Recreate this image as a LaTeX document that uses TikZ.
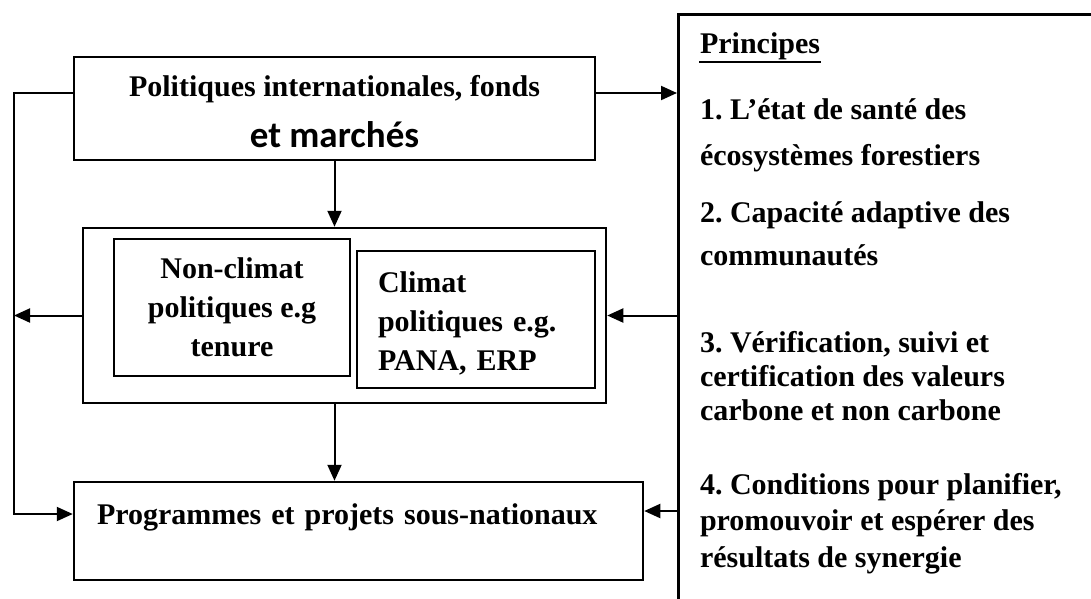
\documentclass[tikz,border=0pt]{standalone}
\usepackage{fontspec}
\setmainfont{Liberation Serif}
\newfontfamily\carlito{Carlito}
\frenchspacing
\usepackage{tikz}
\usetikzlibrary{calc, arrows.meta}
\tikzstyle{blk}=[draw, line width=2.5pt, inner sep=0pt]
\tikzstyle{txt}=[font=\bfseries\fontsize{30}{39}\selectfont, inner sep=0pt]
\tikzstyle{prn}=[txt, anchor=base west, align=left]

\begin{document}
\begin{tikzpicture}[x=1pt,y=1pt,>={Triangle[length=16pt,width=14pt]},line width=2pt]
      \useasboundingbox (0,0) rectangle (1091,-598);

      \node [blk, txt, align=center, minimum width=521pt, minimum height=103pt] (intl) at (334.5,-108.5)
            {\rule{0pt}{28pt}Politiques internationales, fonds\\[12pt]{\carlito\fontsize{37}{39}\selectfont et marchés}};

      \node [blk, minimum width=523pt, minimum height=175pt] (pol) at (344.5,-315.5) {};
      \node [blk, txt, align=center, minimum width=236pt, minimum height=137pt] (noncl) at (232,-307.5)
            {Non-climat\\politiques e.g\\tenure};
      \node [blk, txt, text width=196pt, align=left, minimum width=238pt, minimum height=137pt] (clim) at (476,-319.5)
            {\rule{0pt}{28pt}Climat\\politiques e.g.\\PANA, ERP};

      \node [blk, txt, text width=523pt, align=left, text height=21pt, text depth=35pt,
             minimum width=569pt, minimum height=98pt] (prog) at (358.5,-531)
            {Programmes et projets sous-nationaux};

      \node [draw, line width=3pt, minimum width=450pt, minimum height=620pt, anchor=north west] (princ) at (677,-13) {};
      % base of a multi-line node = its last line
      \node [prn] (p0) at ($(princ.north west)+(22,-40)$) {Principes};
      \draw [line width=2pt] ([yshift=-9pt]p0.base west) -- ([yshift=-9pt]p0.base east);
      \node [prn, font=\bfseries\fontsize{30}{46}\selectfont] (p1) at ($(princ.north west)+(22,-152)$)
            {1. L’état de santé des\\écosystèmes forestiers};
      \node [prn, font=\bfseries\fontsize{30}{43}\selectfont] (p2) at ($(princ.north west)+(22,-252)$)
            {2. Capacité adaptive des\\communautés};
      \node [prn, font=\bfseries\fontsize{30}{34}\selectfont] (p3) at ($(princ.north west)+(22,-407)$)
            {3. Vérification, suivi et\\certification des valeurs\\carbone et non carbone};
      \node [prn, font=\bfseries\fontsize{30}{36.5}\selectfont] (p4) at ($(princ.north west)+(22,-554)$)
            {4. Conditions pour planifier,\\promouvoir et espérer des\\résultats de synergie};

      \coordinate (bus) at (14,-93);
      \coordinate (fa) at ([yshift=17pt]prog.west);
      \coordinate (fb) at ([yshift=20pt]prog.east);

      \draw[->] (intl.west |- bus) -- (bus) |- (fa);
      \path[->] (intl.east |- bus) edge node {} (princ.west |- bus);
      \path[->] (intl.south) edge node {} (intl.south |- pol.north);
      \path[->] (intl.south |- pol.south) edge node {} (intl.south |- prog.north);
      \path[->] (pol.west) edge node {} (pol.west -| bus);
      \path[->] (princ.west |- pol.east) edge node {} (pol.east);
      \path[->] (princ.west |- fb) edge node {} (fb);
\end{tikzpicture}
\end{document}
